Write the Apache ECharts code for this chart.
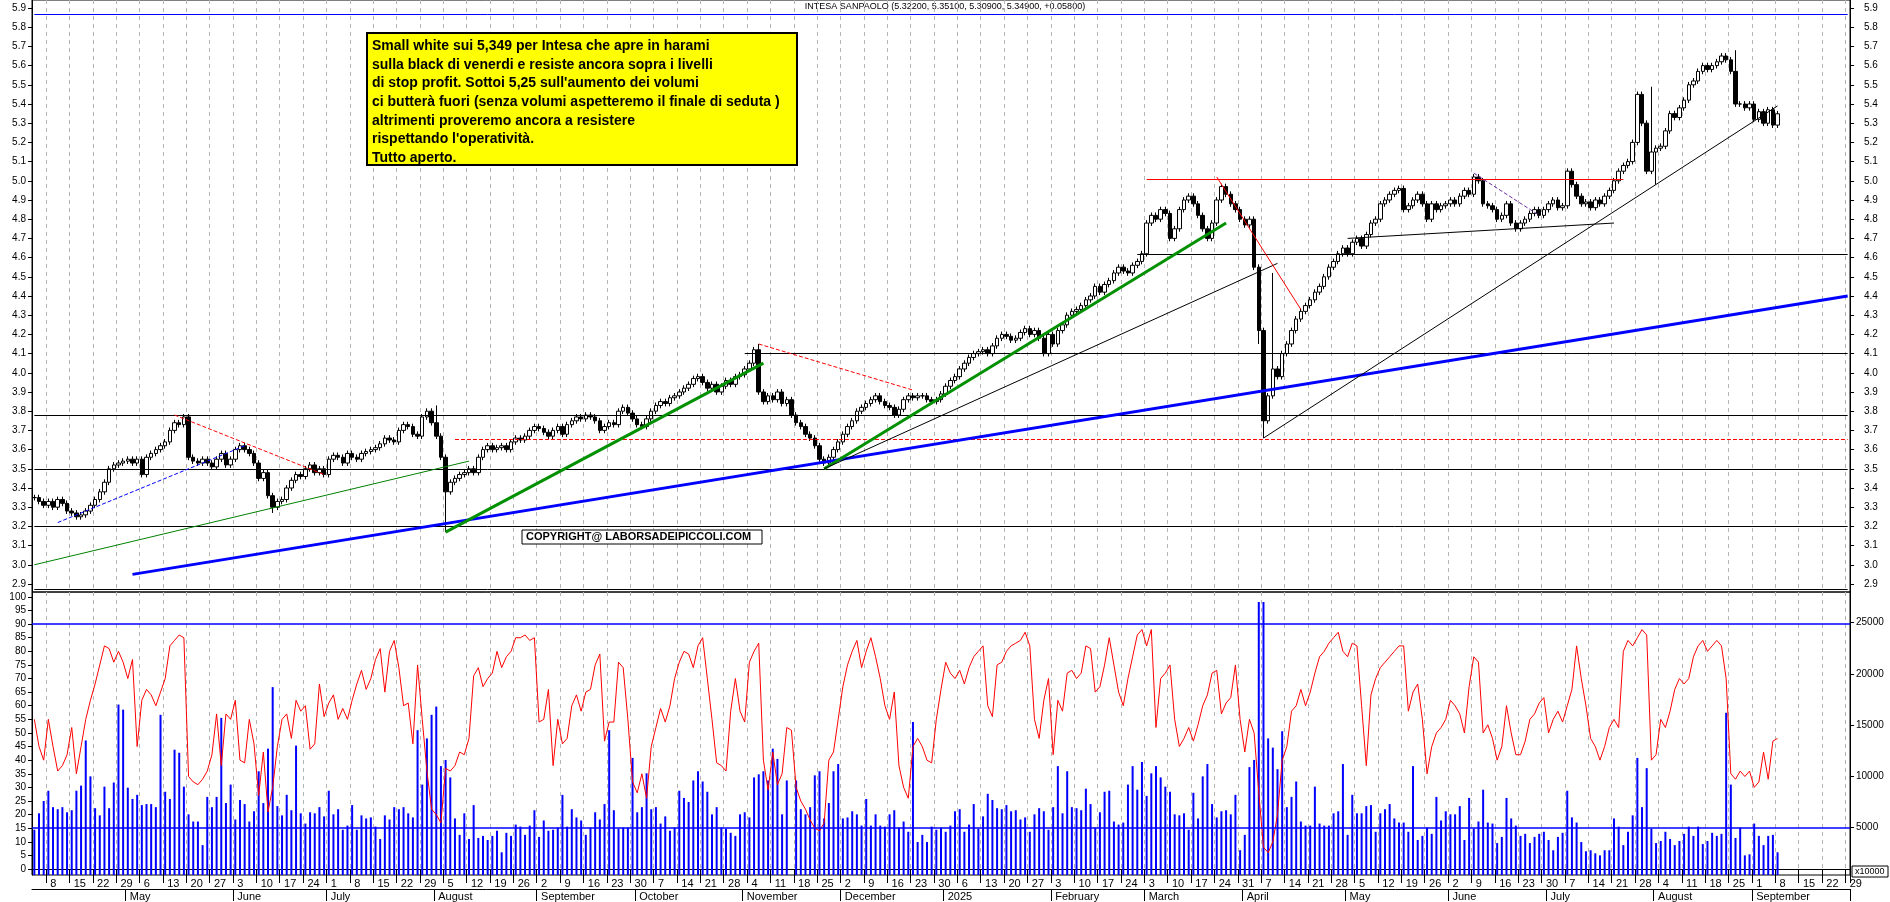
<!DOCTYPE html>
<html><head><meta charset="utf-8">
<script src="https://cdn.jsdelivr.net/npm/echarts@6/dist/echarts.min.js"></script>
<style>html,body{margin:0;padding:0;background:#fff}#c{width:1890px;height:902px}</style>
</head><body><div id="c"></div>
<script>
// ---- DATA (monthly, trading days) ----
const closeApr24=[3.35,3.33,3.31,3.33,3.30,3.34,3.32,3.28,3.27,3.25,3.26,3.28,3.31,3.34,3.38,3.43,3.50,3.52,3.53,3.54];
const closeMay24=[3.55,3.53,3.55,3.47,3.56,3.58,3.60,3.62,3.64,3.70,3.74,3.73,3.77,3.56,3.54,3.53,3.55,3.53,3.51,3.55,3.58,3.52,3.55];
const closeJun24=[3.60,3.62,3.60,3.58,3.53,3.45,3.48,3.36,3.30,3.33,3.34,3.40,3.44,3.47,3.46,3.50,3.52,3.48,3.50,3.47];
const closeJul24=[3.55,3.57,3.56,3.53,3.58,3.56,3.55,3.58,3.59,3.60,3.61,3.63,3.66,3.65,3.64,3.70,3.73,3.72,3.68,3.67,3.77,3.80,3.74];
const closeAug24=[3.67,3.56,3.38,3.43,3.45,3.47,3.48,3.50,3.48,3.56,3.60,3.62,3.60,3.61,3.62,3.60,3.64,3.66,3.65,3.67,3.70,3.72];
const closeSep24=[3.71,3.69,3.67,3.70,3.72,3.68,3.73,3.75,3.77,3.76,3.78,3.77,3.75,3.70,3.72,3.74,3.73,3.80,3.82,3.79,3.76];
const closeOct24=[3.73,3.72,3.76,3.80,3.83,3.85,3.84,3.87,3.88,3.90,3.92,3.94,3.97,3.98,3.95,3.92,3.94,3.90,3.93,3.96,3.94,3.98,3.99];
const closeNov24=[4.02,4.05,4.12,3.90,3.85,3.88,3.86,3.90,3.84,3.86,3.78,3.74,3.72,3.68,3.66,3.62,3.55,3.53,3.56,3.60,3.64];
const closeDec24=[3.68,3.72,3.75,3.80,3.82,3.84,3.86,3.88,3.85,3.83,3.82,3.78,3.81,3.86,3.88,3.87,3.88,3.88,3.86,3.85,3.86,3.89];
const closeJan25=[3.93,3.96,3.98,4.02,4.05,4.08,4.10,4.11,4.12,4.10,4.14,4.18,4.20,4.19,4.17,4.18,4.21,4.23,4.20,4.22,4.18,4.10,4.20];
const closeFeb25=[4.15,4.22,4.25,4.30,4.32,4.33,4.35,4.38,4.40,4.45,4.42,4.46,4.48,4.52,4.55,4.53,4.52,4.56,4.58,4.62];
const closeMar25=[4.78,4.82,4.80,4.85,4.83,4.70,4.75,4.85,4.90,4.92,4.88,4.82,4.75,4.70,4.78,4.90,4.97,4.93,4.88,4.85,4.80];
const closeApr25=[4.77,4.80,4.55,4.22,3.75,3.88,4.02,3.98,4.10,4.15,4.22,4.28,4.32,4.35,4.38,4.42,4.45,4.50,4.55,4.58,4.62,4.65];
const closeMay25=[4.62,4.68,4.70,4.66,4.72,4.78,4.80,4.88,4.90,4.93,4.95,4.96,4.85,4.87,4.90,4.93,4.88,4.80,4.88,4.85,4.87,4.88];
const closeJun25=[4.90,4.88,4.92,4.95,4.93,5.02,5.00,4.88,4.87,4.85,4.80,4.82,4.88,4.78,4.75,4.78,4.80,4.83,4.85,4.82,4.85];
const closeJul25=[4.88,4.90,4.86,4.87,5.05,4.98,4.92,4.88,4.89,4.86,4.90,4.88,4.92,4.95,5.00,5.05,5.08,5.10,5.20,5.45,5.30,5.05,5.15];
const closeAug25=[5.17,5.18,5.26,5.35,5.33,5.38,5.42,5.50,5.52,5.57,5.60,5.58,5.60,5.62,5.65,5.63,5.57,5.40,5.40,5.38,5.40];
const closeSep25=[5.32,5.36,5.30,5.37,5.29,5.349];
const lowOverride={"2024-08-05":3.17,"2024-06-13":3.27,"2025-04-07":3.66,"2025-04-04":4.15,"2025-08-01":4.98};
const highOverride={"2024-11-06":4.15,"2025-04-09":4.52,"2025-07-31":5.49,"2025-08-26":5.68,"2024-08-01":3.83};

const oscApr24=[55,45,40,55,45,36,38,42,52,35,45,55,62,68,75,82,81,76,80,76];
const oscMay24=[70,77,45,62,66,64,60,65,70,82,84,86,85,34,32,31,33,36,42,57,38,57,55];
const oscJun24=[62,40,39,55,46,27,43,21,30,45,55,57,48,62,58,60,44,46,68,56];
const oscJul24=[61,64,55,59,55,62,68,73,66,70,77,81,65,80,84,74,60,61,46,75,55,36,22];
const oscAug24=[20,17,37,36,38,43,42,48,71,74,67,70,72,80,74,78,80,85,85,86,84,85];
const oscSep24=[54,55,66,38,55,46,48,60,64,58,65,66,75,79,47,54,54,76,74,55,32];
const oscOct24=[28,35,26,45,52,59,54,60,70,76,80,79,74,82,85,70,55,39,38,36,58,70,58];
const oscNov24=[54,76,80,83,40,29,43,31,35,52,51,30,25,22,18,15,14,17,40,43,55];
const oscDec24=[67,75,80,84,74,80,85,78,70,60,55,65,38,30,26,45,48,45,40,39,55,66];
const oscJan25=[76,72,70,73,68,74,78,80,82,60,56,75,76,80,82,83,84,87,82,55,48,62,70];
const oscFeb25=[42,62,58,72,73,70,72,82,81,65,67,75,85,75,65,60,70,78,86,88];
const oscMar25=[82,88,52,70,72,75,55,45,48,52,47,53,60,64,72,73,57,61,63,75,55];
const oscApr25=[43,55,50,28,8,6,10,20,40,45,58,60,66,60,65,72,78,80,83,85,87,80];
const oscMay25=[78,83,82,60,38,64,70,74,76,78,80,82,82,58,65,68,55,35,45,50,52,55];
const oscJun25=[62,60,57,50,67,78,76,50,53,48,40,45,60,50,42,42,47,55,57,61,63];
const oscJul25=[50,55,58,54,60,66,82,70,60,48,45,40,45,52,55,52,80,84,82,85,88,86,40];
const oscAug25=[42,55,52,58,66,70,68,70,78,82,84,80,82,84,82,70,35,33,36,34,36];
const oscSep25=[30,32,43,33,47,48];

const volApr24=[4800,6400,7600,8600,7000,6800,7000,6500,6700,8600,9100,13500,10000,6900,6200,9000,6900,9400,17000,16500];
const volMay24=[8900,7800,8200,7200,7300,7300,7000,16000,8500,7800,12600,12300,9000,6300,5600,5600,3300,8000,7000,8000,15700,7400,9200];
const volJun24=[5800,7700,7300,5600,6600,10500,7400,12700,18700,7100,6200,8200,6700,13000,6400,5400,6500,6400,7000,6100];
const volJul24=[8600,6300,6800,4800,5200,7200,4800,6200,5900,6000,5100,3900,6200,5800,7000,6800,7000,6400,6000,14500,9200,13700,16000];
const volAug24=[16800,11000,11600,9900,5900,4300,6400,3900,7200,4000,4200,3800,4200,4700,2600,4500,4200,5300,5100,4300,5200,6700];
const volSep24=[4100,5700,4700,4800,5000,8200,5100,6800,6000,5700,4300,5000,6500,5800,7300,14500,6700,4900,5000,5000,11800];
const volOct24=[6500,7000,10300,6800,7000,5400,6100,4700,5000,8600,7900,7500,9600,10500,9500,8500,6300,7000,5000,4900,4500,4200,6300];
const volNov24=[6500,6000,9900,10200,10500,9600,12700,11700,6300,9600,300,9600,6800,6300,7000,10100,10500,5900,7400,10500,11200];
const volDec24=[5900,6000,6600,6300,5200,7800,5200,6300,5200,5100,6300,6700,5000,5600,4600,15300,3600,4300,3600,5100,4800,5000];
const volJan25=[4600,5200,6600,6800,4600,5300,7300,4900,6100,8300,7700,6900,6800,7200,6600,6700,5800,6000,4600,6300,6900,6600,4800];
const volFeb25=[7000,11000,6400,10500,7000,6900,6700,8800,7300,5000,6500,8500,8600,5600,5300,5500,9200,11000,8700,11400];
const volMar25=[8100,10300,11000,9900,9000,8500,6300,6200,6400,4800,8400,5900,10000,11200,7300,6000,6600,6700,6300,8200,2800];
const volApr25=[4300,10900,11600,27000,27000,13700,12800,10700,14400,7000,8000,9500,5600,5200,5200,9000,5400,5200,5200,6400,6600,11200];
const volMay25=[4300,8200,6400,6400,7100,7200,4600,6400,6800,7300,5900,5500,5500,4600,11000,3800,4200,5000,4400,8000,5700,6600];
const volJun25=[6300,6300,7100,3800,7900,4900,5600,8700,5500,5400,3500,4100,7900,5900,5200,4200,4400,3500,4100,4400,4600];
const volJul25=[3800,2800,4100,4500,8600,6000,5500,3600,2700,2800,2500,2300,2800,2800,5900,5100,3300,4600,6200,11800,7000,10800,4900];
const volAug25=[3500,3700,4600,3900,3300,3700,4400,5100,4200,5100,3400,3700,4500,4200,4400,16200,9200,4000,5000,2300,2400];
const volSep25=[5400,4200,3300,4200,4300,2600];

const priceTicks=[2.9,3.0,3.1,3.2,3.3,3.4,3.5,3.6,3.7,3.8,3.9,4.0,4.1,4.2,4.3,4.4,4.5,4.6,4.7,4.8,4.9,5.0,5.1,5.2,5.3,5.4,5.5,5.6,5.7,5.8,5.9];
const oscTicks=[0,5,10,15,20,25,30,35,40,45,50,55,60,65,70,75,80,85,90,95,100];
const volTicks=[5000,10000,15000,20000,25000];
const monthNames=["January","February","March","April","May","June","July","August","September","October","November","December"];
const levels=[ // [from, to, value, color, type, width]
 ["2024-04-03","2025-09-29",5.87,"#0000ff","solid",1],
 ["2024-04-03","2025-09-29",3.78,"#000","solid",1],
 ["2024-04-03","2025-09-29",3.50,"#000","solid",1],
 ["2024-04-03","2025-09-29",3.20,"#000","solid",1],
 ["2024-04-03","2025-09-29",2.875,"#000","solid",1],
 ["2024-08-07","2025-09-29",3.655,"#ff0000","dashed",1],
 ["2024-11-01","2025-09-29",4.10,"#000","solid",1],
 ["2025-02-27","2025-09-29",4.62,"#000","solid",1],
 ["2025-03-03","2025-07-23",5.01,"#ff0000","solid",1]
];
const trends=[ // [d1,v1,d2,v2,color,type,width]
 ["2024-04-10",3.22,"2024-06-05",3.62,"#0000ff","dashed",1],
 ["2024-05-15",3.78,"2024-06-28",3.47,"#ff0000","dashed",1],
 ["2024-04-03",3.00,"2024-08-12",3.54,"#008000","solid",1],
 ["2024-05-02",2.95,"2025-09-29",4.40,"#0000ff","solid",3],
 ["2024-08-05",3.17,"2024-11-07",4.05,"#009000","solid",3],
 ["2024-11-26",3.50,"2025-03-26",4.78,"#009000","solid",3],
 ["2024-11-26",3.50,"2025-04-10",4.57,"#000","solid",1],
 ["2024-11-06",4.15,"2024-12-23",3.91,"#ff0000","dashed",1],
 ["2025-03-24",5.02,"2025-04-17",4.33,"#ff0000","solid",1],
 ["2025-04-07",3.66,"2025-09-08",5.39,"#000","solid",1],
 ["2025-05-01",4.70,"2025-07-21",4.78,"#000","solid",1],
 ["2025-06-09",5.04,"2025-06-27",4.82,"#7030a0","dashed",1]
];
const title="INTESA SANPAOLO (5.32200, 5.35100, 5.30900, 5.34900, +0.05800)";
const note="Small white sui 5,349 per Intesa che apre in harami\nsulla black di venerdi e resiste ancora sopra i livelli\ndi stop profit. Sottoi 5,25 sull'aumento dei volumi\nci butterà fuori (senza volumi aspetteremo il finale di seduta )\naltrimenti proveremo ancora a resistere\nrispettando l'operatività.\nTutto aperto.";
const copyright="COPYRIGHT@ LABORSADEIPICCOLI.COM";

// ---- build ----
const closes=[].concat(closeApr24,closeMay24,closeJun24,closeJul24,closeAug24,closeSep24,closeOct24,closeNov24,closeDec24,closeJan25,closeFeb25,closeMar25,closeApr25,closeMay25,closeJun25,closeJul25,closeAug25,closeSep25);
const osc=[].concat(oscApr24,oscMay24,oscJun24,oscJul24,oscAug24,oscSep24,oscOct24,oscNov24,oscDec24,oscJan25,oscFeb25,oscMar25,oscApr25,oscMay25,oscJun25,oscJul25,oscAug25,oscSep25);
const vols=[].concat(volApr24,volMay24,volJun24,volJul24,volAug24,volSep24,volOct24,volNov24,volDec24,volJan25,volFeb25,volMar25,volApr25,volMay25,volJun25,volJul25,volAug25,volSep25);
const dates=[];
{let d=new Date(Date.UTC(2024,3,3));const end=Date.UTC(2025,8,29);
 while(d.getTime()<=end){const w=d.getUTCDay();if(w>0&&w<6)dates.push(d.toISOString().slice(0,10));d=new Date(d.getTime()+86400000);}}
const candles=dates.map((dt,i)=>{
 if(i>=closes.length)return '-';
 const c=closes[i],o=i>0?closes[i-1]:c;
 let lo=Math.min(o,c)-0.015,hi=Math.max(o,c)+0.015;
 if(lowOverride[dt]!==undefined)lo=lowOverride[dt];
 if(highOverride[dt]!==undefined)hi=highOverride[dt];
 return [o,c,lo,hi];
});
const oscD=dates.map((d,i)=>i<osc.length?osc[i]:'-');
const volD=dates.map((d,i)=>i<vols.length?vols[i]:'-');
const isMon=(i)=>new Date(dates[i]+'T00:00:00Z').getUTCDay()===1;
const isMonthStart=(i)=>i===0||dates[i].slice(5,7)!==dates[i-1].slice(5,7);
const monIv=(i)=>isMon(i);
const monthIv=(i)=>i>0&&isMonthStart(i);

const mlData=[];
levels.forEach(l=>mlData.push([{coord:[l[0],l[2]],lineStyle:{color:l[3],type:l[4],width:l[5]}},{coord:[l[1],l[2]]}]));
trends.forEach(t=>mlData.push([{coord:[t[0],t[1]],lineStyle:{color:t[4],type:t[5],width:t[6]}},{coord:[t[2],t[3]]}]));

const G0={left:32,right:40,top:0,height:592};
const G1={left:32,right:40,top:592,height:285};
const lab={fontFamily:'Arial',fontSize:11,color:'#000'};
const chart=echarts.init(document.getElementById('c'),null,{renderer:'canvas'});
chart.setOption({
 animation:false,
 grid:[Object.assign({show:true,borderColor:'#000',borderWidth:1},G0),Object.assign({show:true,borderColor:'#000',borderWidth:1},G1)],
 xAxis:[
  {type:'category',gridIndex:0,data:dates,boundaryGap:true,axisLine:{show:false},axisTick:{show:false},axisLabel:{show:false},
   splitLine:{show:true,interval:monIv,lineStyle:{color:'#b4b4b4',type:[4,4]}}},
  {type:'category',gridIndex:1,data:dates,boundaryGap:true,axisLine:{lineStyle:{color:'#000'}},
   axisTick:{show:true,interval:monIv,length:14,lineStyle:{color:'#000'}},
   axisLabel:Object.assign({interval:monIv,formatter:v=>String(+v.slice(8,10)),align:'left',margin:3,padding:[0,0,0,2]},lab),
   splitLine:{show:true,interval:monIv,lineStyle:{color:'#b4b4b4',type:[4,4]}}},
  {type:'category',gridIndex:1,data:dates,boundaryGap:true,position:'bottom',offset:14,axisLine:{lineStyle:{color:'#000'}},
   axisTick:{show:true,interval:monthIv,length:12,lineStyle:{color:'#000'}},
   axisLabel:Object.assign({interval:monthIv,formatter:v=>v.slice(5,7)==='01'?v.slice(0,4):monthNames[+v.slice(5,7)-1],align:'left',margin:0,padding:[2,0,0,2]},lab),
   splitLine:{show:false}}
 ],
 yAxis:[
  {type:'value',gridIndex:0,min:2.8583,max:5.9417,position:'left',axisLine:{show:true,lineStyle:{color:'#000'}},
   axisTick:{show:true,customValues:priceTicks,length:4},axisLabel:{customValues:priceTicks,formatter:v=>v.toFixed(1),margin:6,fontSize:10,fontFamily:'Arial',color:'#000'},splitLine:{show:false}},
  {type:'value',gridIndex:0,min:2.8583,max:5.9417,position:'right',axisLine:{show:true,lineStyle:{color:'#000'}},
   axisTick:{show:true,customValues:priceTicks,length:4},axisLabel:{customValues:priceTicks,formatter:v=>v.toFixed(1),margin:14,fontSize:10,fontFamily:'Arial',color:'#000'},splitLine:{show:false}},
  {type:'value',gridIndex:1,min:-2.2,max:101.8,position:'left',axisLine:{show:true,lineStyle:{color:'#000'}},
   axisTick:{show:true,customValues:oscTicks,length:4},axisLabel:{customValues:oscTicks,margin:6,fontSize:10,fontFamily:'Arial',color:'#000'},splitLine:{show:false}},
  {type:'value',gridIndex:1,min:387,max:27970,position:'right',axisLine:{show:true,lineStyle:{color:'#000'}},
   axisTick:{show:true,customValues:volTicks,length:4},axisLabel:{customValues:volTicks,formatter:v=>String(v),margin:6,fontSize:10,fontFamily:'Arial',color:'#000'},splitLine:{show:false}}
 ],
 series:[
  {type:'candlestick',xAxisIndex:0,yAxisIndex:0,data:candles,barWidth:4,
   itemStyle:{color:'#fff',color0:'#000',borderColor:'#000',borderColor0:'#000',borderWidth:1},
   markLine:{silent:true,symbol:['none','none'],label:{show:false},data:mlData}},
  {type:'bar',xAxisIndex:1,yAxisIndex:3,data:volD,barWidth:2,itemStyle:{color:'#0000ff'}},
  {type:'line',xAxisIndex:1,yAxisIndex:2,data:oscD,showSymbol:false,lineStyle:{color:'#ff0000',width:1},itemStyle:{color:'#ff0000'},
   markLine:{silent:true,symbol:['none','none'],label:{show:false},lineStyle:{color:'#0000ff',type:'solid',width:1.5},data:[{yAxis:90},{yAxis:15}]}}
 ],
 graphic:[
  {type:'text',left:'center',top:2,style:{text:title,font:'9px Arial',fill:'#000'}},
  {type:'rect',shape:{x:367,y:33,width:430,height:132},style:{fill:'#ffff00',stroke:'#000',lineWidth:2},z:10},
  {type:'text',x:372,y:37,z:11,style:{text:note,font:'bold 14px "Liberation Sans", Arial',lineHeight:18.6,fill:'#000'}},
  {type:'rect',shape:{x:522,y:530,width:240,height:14},style:{fill:'#fff',stroke:'#000',lineWidth:1},z:10},
  {type:'text',x:526,y:531,z:11,style:{text:copyright,font:'bold 11px "Liberation Sans", Arial',fill:'#000'}},
  {type:'rect',shape:{x:1852,y:866,width:36,height:11},style:{fill:'#fff',stroke:'#000',lineWidth:1},z:10},
  {type:'text',x:1855,y:867,z:11,style:{text:'x10000',font:'9px Arial',fill:'#000'}}
 ]
});
</script></body></html>
